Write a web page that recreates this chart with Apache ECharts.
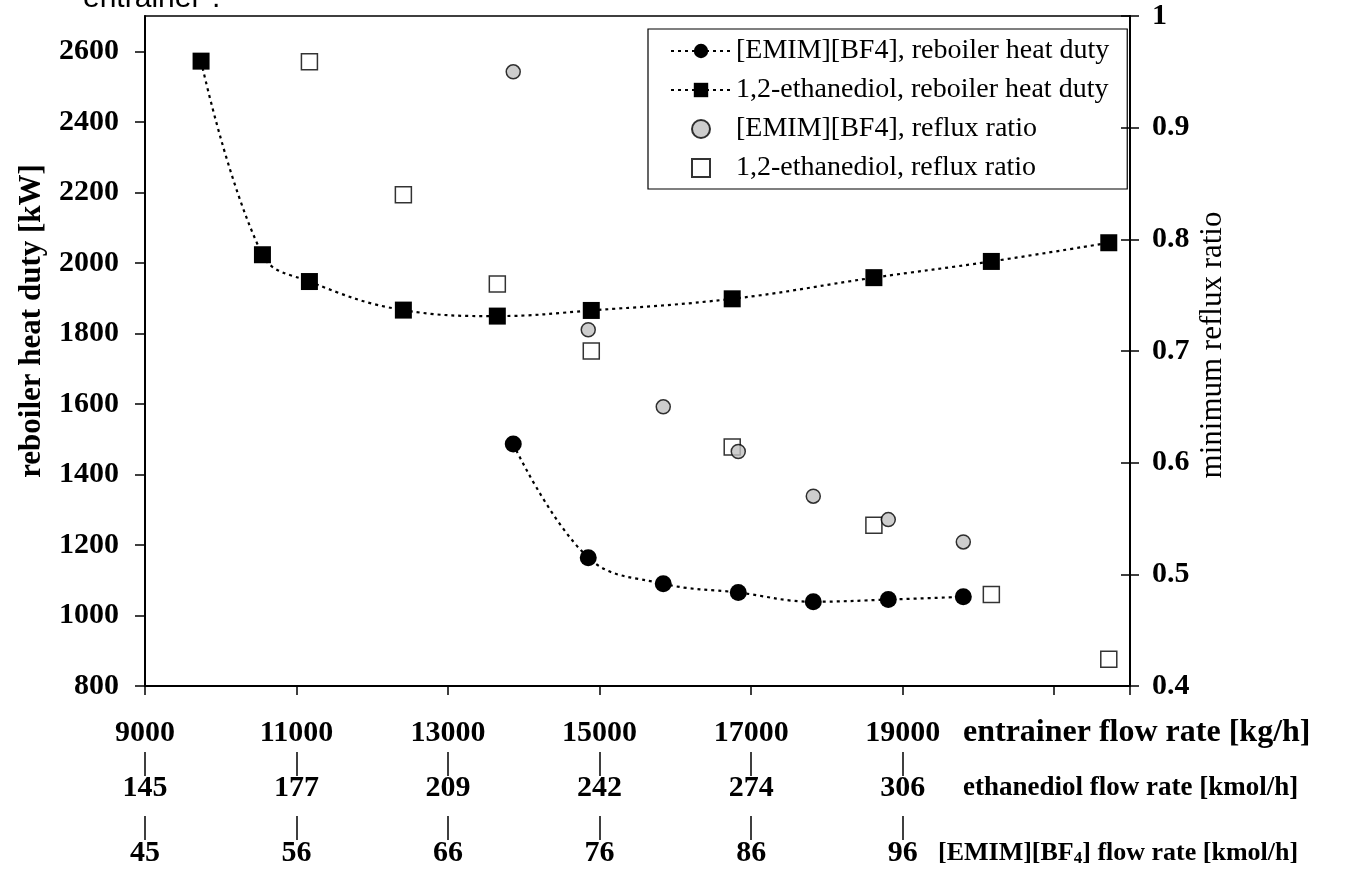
<!DOCTYPE html>
<html>
<head>
<meta charset="utf-8">
<script src="https://cdn.jsdelivr.net/npm/echarts@6/dist/echarts.min.js"></script>
<style>
  html, body { margin: 0; padding: 0; background: #fff; }
  #chart { width: 1356px; height: 869px; }
</style>
</head>
<body>
<div id="chart"></div>
<script>
// tick labels of the three stacked flow scales
var flowTicks = [9000, 11000, 13000, 15000, 17000, 19000];
var ethanediolTicks = ['145', '177', '209', '242', '274', '306'];
var emimTicks = ['45', '56', '66', '76', '86', '96'];
var dutyTicks = [800, 1000, 1200, 1400, 1600, 1800, 2000, 2200, 2400, 2600];

// 1,2-ethanediol
var ethFlow = [9740, 10550, 11170, 12410, 13650, 14890, 16750, 18620, 20170, 21720];
var ethDuty = [2572, 2023, 1947, 1866, 1849, 1865, 1898, 1958, 2004, 2057];
var ethRefluxFlow = [11170, 12410, 13650, 14890, 16750, 18620, 20170, 21720];
var ethReflux = [0.959, 0.840, 0.760, 0.700, 0.614, 0.544, 0.482, 0.424];

// [EMIM][BF4]
var emimFlow = [13860, 14850, 15840, 16830, 17820, 18810, 19800];
var emimDuty = [1486, 1164, 1090, 1065, 1039, 1045, 1053];
var emimReflux = [0.950, 0.719, 0.650, 0.610, 0.570, 0.549, 0.529];

function pairs(xs, ys) {
  return xs.map(function (x, i) { return [x, ys[i]]; });
}

var serif = 'Liberation Serif';
var chart = echarts.init(document.getElementById('chart'));

var dotted = { color: '#000', width: 2.2, type: [3, 4] };
var bold30 = { fontFamily: serif, fontWeight: 'bold', fontSize: 30, color: '#000' };
var plain = function (v) { return String(v); };
var square = 'path://M0,0H10V10H0Z';

var option = {
  animation: false,
  backgroundColor: '#fff',
  grid: {
    left: 145, right: 226, top: 16, bottom: 183,
    show: true, borderColor: '#000', borderWidth: 1.5
  },
  legend: {
    orient: 'vertical',
    left: 648, top: 29,
    itemWidth: 60, itemHeight: 18, itemGap: 9,
    padding: [7, 18, 6, 22],
    borderColor: '#000', borderWidth: 1.2,
    textStyle: { fontFamily: serif, fontSize: 28, lineHeight: 30, color: '#000' },
    data: [
      { name: '[EMIM][BF4], reboiler heat duty' },
      { name: '1,2-ethanediol, reboiler heat duty' },
      { name: '[EMIM][BF4], reflux ratio' },
      { name: '1,2-ethanediol, reflux ratio', icon: square }
    ]
  },
  xAxis: [{
    type: 'value', min: 9000, max: 22000, interval: 2000,
    axisLine: { lineStyle: { color: '#000', width: 2 } },
    axisTick: { length: 9, lineStyle: { color: '#000', width: 1.5 } },
    axisLabel: Object.assign({ margin: 32, customValues: flowTicks, formatter: plain }, bold30),
    splitLine: { show: false }
  }, {
    type: 'value', min: 9000, max: 22000, interval: 2000,
    position: 'bottom', offset: 66,
    axisLine: { show: false },
    axisTick: { length: 24, customValues: flowTicks, lineStyle: { color: '#000', width: 1.5 } },
    axisLabel: Object.assign({
      margin: 21, customValues: flowTicks,
      formatter: function (v) { return ethanediolTicks[flowTicks.indexOf(v)]; }
    }, bold30),
    splitLine: { show: false }
  }, {
    type: 'value', min: 9000, max: 22000, interval: 2000,
    position: 'bottom', offset: 130,
    axisLine: { show: false },
    axisTick: { length: 24, customValues: flowTicks, lineStyle: { color: '#000', width: 1.5 } },
    axisLabel: Object.assign({
      margin: 22, customValues: flowTicks,
      formatter: function (v) { return emimTicks[flowTicks.indexOf(v)]; }
    }, bold30),
    splitLine: { show: false }
  }],
  yAxis: [{
    type: 'value', min: 800, max: 2700, interval: 200, position: 'left',
    axisLine: { show: true, lineStyle: { color: '#000', width: 2 } },
    axisTick: { show: true, length: 10, customValues: dutyTicks, lineStyle: { color: '#000', width: 1.5 } },
    axisLabel: Object.assign({ margin: 26, customValues: dutyTicks, formatter: plain }, bold30),
    splitLine: { show: false }
  }, {
    type: 'value', min: 0.4, max: 1, interval: 0.1, position: 'right',
    axisLine: { show: true, lineStyle: { color: '#000', width: 2 } },
    axisTick: { show: true, length: 9, lineStyle: { color: '#000', width: 1.5 } },
    axisLabel: Object.assign({ margin: 22 }, bold30),
    splitLine: { show: false }
  }, {
    // inner half of the crossing ticks on the right axis
    type: 'value', min: 0.4, max: 1, interval: 0.1, position: 'right',
    axisLine: { show: false },
    axisTick: { show: true, inside: true, length: 9, lineStyle: { color: '#000', width: 1.5 } },
    axisLabel: { show: false },
    splitLine: { show: false }
  }],
  graphic: [
    { type: 'text', left: 83, top: -16,
      style: { text: 'entrainer".', font: '30px "Liberation Sans"', fill: '#000' } },
    { type: 'text', x: 32, y: 321, rotation: Math.PI / 2,
      style: { text: 'reboiler heat duty [kW]', font: 'bold 31px "Liberation Serif"',
               fill: '#000', align: 'center', verticalAlign: 'middle' } },
    { type: 'text', x: 1213, y: 345, rotation: Math.PI / 2,
      style: { text: 'minimum reflux ratio', font: '31px "Liberation Serif"',
               fill: '#000', align: 'center', verticalAlign: 'middle' } },
    { type: 'text', x: 963, y: 733,
      style: { text: 'entrainer flow rate [kg/h]', font: 'bold 32px "Liberation Serif"',
               fill: '#000', verticalAlign: 'middle' } },
    { type: 'text', x: 963, y: 788,
      style: { text: 'ethanediol flow rate [kmol/h]', font: 'bold 27px "Liberation Serif"',
               fill: '#000', verticalAlign: 'middle' } },
    { type: 'text', x: 938, y: 853,
      style: { text: '[EMIM][BF{sub|4}] flow rate [kmol/h]', fill: '#000', verticalAlign: 'middle',
               font: 'bold 26px "Liberation Serif"',
               rich: { sub: { font: 'bold 17px "Liberation Serif"', verticalAlign: 'bottom', padding: [11, 0, 0, 0] } } } }
  ],
  series: [{
    name: '1,2-ethanediol, reflux ratio',
    type: 'scatter', yAxisIndex: 1, z: 3,
    symbol: 'rect', symbolSize: 16,
    itemStyle: { color: '#fff', borderColor: '#000', borderWidth: 1.5 },
    data: pairs(ethRefluxFlow, ethReflux)
  }, {
    name: '[EMIM][BF4], reflux ratio',
    type: 'scatter', yAxisIndex: 1, z: 4,
    symbol: 'circle', symbolSize: 14,
    itemStyle: { color: '#c0c0c0', borderColor: '#000', borderWidth: 1.5 },
    data: pairs(emimFlow, emimReflux)
  }, {
    name: '1,2-ethanediol, reboiler heat duty',
    type: 'line', smooth: 0.4, z: 5,
    symbol: 'rect', symbolSize: 17,
    itemStyle: { color: '#000' },
    lineStyle: dotted,
    data: pairs(ethFlow, ethDuty)
  }, {
    name: '[EMIM][BF4], reboiler heat duty',
    type: 'line', smooth: 0.4, z: 5,
    symbol: 'circle', symbolSize: 17,
    itemStyle: { color: '#000' },
    lineStyle: dotted,
    data: pairs(emimFlow, emimDuty)
  }]
};

chart.setOption(option);
</script>
</body>
</html>
